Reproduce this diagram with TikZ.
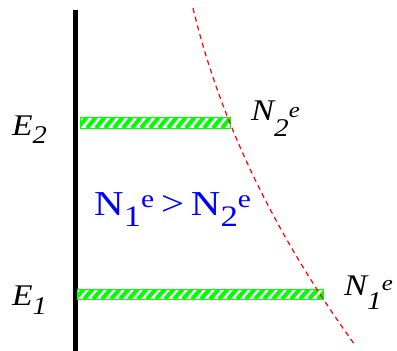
\documentclass[tikz,border=0pt]{standalone}
\usepackage{fontspec}
\usepackage{graphicx}
\setmainfont{Liberation Serif}
\newcommand\mysb[2]{\raisebox{-#1}{\scalebox{0.85}{#2}}}
\newcommand\mysp[2]{\raisebox{#1}{\scalebox{0.72}{#2}}}
\newcommand\wide[2]{\scalebox{#1}[1]{#2}}
\begin{document}
\begin{tikzpicture}[x=1pt,y=-1pt,
  bar/.style={draw=green, line width=0.8pt},
  stripe/.style={green, line width=4pt},
  curve/.style={red, line width=1.2pt, dash pattern=on 5pt off 4pt},
  axis/.style={black, line width=5pt},
  lbl/.style={font=\fontsize{30}{32}\selectfont\itshape, inner sep=0pt},
  blue/.style={text=blue, font=\fontsize{35}{37}\selectfont, inner sep=0pt}]
\useasboundingbox (0,0) rectangle (397,351);
% axis
\coordinate (atop) at (75.5,10);
\coordinate (abot) at (75.5,351);
\draw[axis] (atop) -- (abot);
% bars
\foreach \nm/\xa/\xb/\ya/\yb in {b2/80/230/117/128, b1/77/323/289/299}{
  \begin{scope}
    \clip (\xa,\ya) rectangle (\xb,\yb);
    \foreach \s in {-20,-11,...,340}{
      \draw[stripe] (\xa+\s,\yb) -- (\xa+\s+9,\ya);
    }
  \end{scope}
  \node[bar, minimum width=\xb-\xa, minimum height=\yb-\ya, inner sep=0pt, anchor=north west] (\nm) at (\xa,\ya) {};
}
% red dashed curve
\coordinate (c0) at (193,8);
\coordinate (c1) at (355,345);
\draw[curve] (c0) .. controls (219.8,120.3) and (273.8,232.7) .. (c1);
% labels
\node[lbl, anchor=base west] (e2) at (12,135) {\wide{1.12}{E\mysb{8pt}{2}}};
\node[lbl, anchor=base west] (e1) at (12,305) {\wide{1.12}{E\mysb{9pt}{1}}};
\node[lbl, anchor=base west] (n2) at (251,120) {\wide{1.15}{N\mysb{16pt}{2}\mysp{3pt}{e}}};
\node[lbl, anchor=base west] (n1) at (344,295) {\wide{1.15}{N\mysb{14pt}{1}\mysp{5pt}{e}}};
\node[blue, anchor=base west] (ineq) at (94,215) {\wide{1.17}{N\mysb{11pt}{1}\mysp{8pt}{e}\,>\,N\mysb{11pt}{2}\mysp{8pt}{e}}};
\end{tikzpicture}
\end{document}
